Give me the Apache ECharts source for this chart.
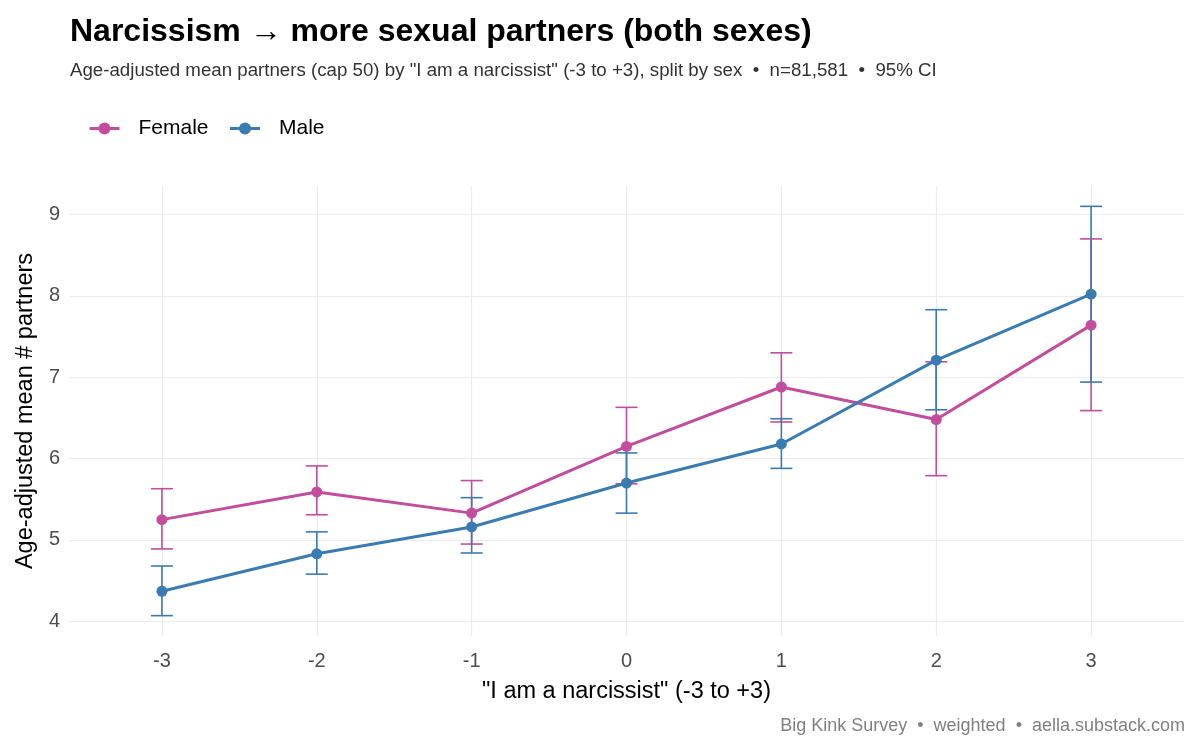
<!DOCTYPE html>
<html><head><meta charset="utf-8">
<script src="https://cdn.jsdelivr.net/npm/echarts@6/dist/echarts.min.js"></script>
<style>html,body{margin:0;padding:0;background:#fff}#c{width:1200px;height:750px}</style>
</head><body><div id="c"></div>
<script>
const categories = [-3, -2, -1, 0, 1, 2, 3];
const yTicks = [4, 5, 6, 7, 8, 9];
const femaleMean = [5.25, 5.59, 5.33, 6.15, 6.88, 6.48, 7.64];
const femaleLow  = [4.89, 5.31, 4.95, 5.69, 6.45, 5.79, 6.59];
const femaleHigh = [5.63, 5.91, 5.73, 6.63, 7.30, 7.19, 8.70];
const maleMean = [4.37, 4.83, 5.16, 5.70, 6.18, 7.21, 8.02];
const maleLow  = [4.07, 4.58, 4.84, 5.33, 5.88, 6.60, 6.94];
const maleHigh = [4.68, 5.10, 5.52, 6.07, 6.49, 7.83, 9.10];

const FEMALE = '#C24D9C';
const MALE = '#3A7BB2';
const FONT = '"Liberation Sans", Arial, sans-serif';

function errSeries(name, low, high, color) {
  return {
    name: name, type: 'custom', z: 2, silent: true,
    data: categories.map((c, i) => [c, low[i], high[i]]),
    renderItem: function (params, api) {
      const x = api.value(0);
      const lo = api.coord([x, api.value(1)]);
      const hi = api.coord([x, api.value(2)]);
      const w = 11;
      const st = { stroke: color, lineWidth: 1.6, fill: null };
      return { type: 'group', children: [
        { type: 'line', shape: { x1: lo[0], y1: lo[1], x2: hi[0], y2: hi[1] }, style: st },
        { type: 'line', shape: { x1: lo[0] - w, y1: lo[1], x2: lo[0] + w, y2: lo[1] }, style: st },
        { type: 'line', shape: { x1: hi[0] - w, y1: hi[1], x2: hi[0] + w, y2: hi[1] }, style: st }
      ]};
    }
  };
}

const gridStyle = { color: '#ebebeb', width: 1.2, type: 'solid' };
const chart = echarts.init(document.getElementById('c'), null, { renderer: 'canvas' });
chart.setOption({
  animation: false,
  backgroundColor: '#fff',
  textStyle: { fontFamily: FONT },
  title: [
    { text: 'Narcissism \u2192 more sexual partners (both sexes)', left: 65, top: 11,
      textStyle: { fontFamily: FONT, fontSize: 32, fontWeight: 'bold', color: '#000' } },
    { text: 'Age-adjusted mean partners (cap 50) by "I am a narcissist" (-3 to +3), split by sex  \u2022  n=81,581  \u2022  95% CI',
      left: 65, top: 56, textStyle: { fontFamily: FONT, fontSize: 18.7, fontWeight: 'normal', color: '#333' } },
    { text: 'Big Kink Survey  \u2022  weighted  \u2022  aella.substack.com', right: 10, top: 712,
      textStyle: { fontFamily: FONT, fontSize: 18, fontWeight: 'normal', color: '#808080' } }
  ],
  legend: {
    left: 83, top: 113, itemWidth: 30, itemHeight: 15, itemGap: 20,
    data: ['Female', 'Male'],
    lineStyle: { width: 3 },
    textStyle: { fontFamily: FONT, fontSize: 21, color: '#000', padding: [0, 0, 0, 14] }
  },
  grid: { left: 69, right: 16, top: 186, bottom: 114, containLabel: false, outerBoundsMode: 'none' },
  xAxis: {
    type: 'value', min: -3.6, max: 3.6,
    name: '"I am a narcissist" (-3 to +3)', nameLocation: 'middle', nameGap: 44,
    nameTextStyle: { fontFamily: FONT, fontSize: 23.5, color: '#000' },
    axisLine: { show: false }, axisTick: { show: false }, splitLine: { show: false },
    axisLabel: { customValues: categories, fontFamily: FONT, fontSize: 20, color: '#4d4d4d', margin: 15 }
  },
  yAxis: {
    type: 'value', min: 3.82, max: 9.35,
    name: 'Age-adjusted mean # partners', nameLocation: 'middle', nameGap: 30,
    nameTextStyle: { fontFamily: FONT, fontSize: 23.5, color: '#000' },
    axisLine: { show: false }, axisTick: { show: false }, splitLine: { show: false },
    axisLabel: { customValues: yTicks, fontFamily: FONT, fontSize: 20, color: '#4d4d4d', margin: 9 }
  },
  series: [
    { name: 'grid', type: 'line', data: [], z: 0, silent: true,
      markLine: { z: 1, silent: true, symbol: 'none', label: { show: false }, lineStyle: gridStyle,
        data: categories.map(v => ({ xAxis: v })).concat(yTicks.map(v => ({ yAxis: v }))) } },
    errSeries('Female CI', femaleLow, femaleHigh, FEMALE),
    errSeries('Male CI', maleLow, maleHigh, MALE),
    { name: 'Female', type: 'line', z: 3, data: categories.map((c, i) => [c, femaleMean[i]]),
      symbol: 'circle', symbolSize: 11, lineStyle: { color: FEMALE, width: 3 }, itemStyle: { color: FEMALE } },
    { name: 'Male', type: 'line', z: 4, data: categories.map((c, i) => [c, maleMean[i]]),
      symbol: 'circle', symbolSize: 11, lineStyle: { color: MALE, width: 3 }, itemStyle: { color: MALE } }
  ]
});
</script></body></html>
